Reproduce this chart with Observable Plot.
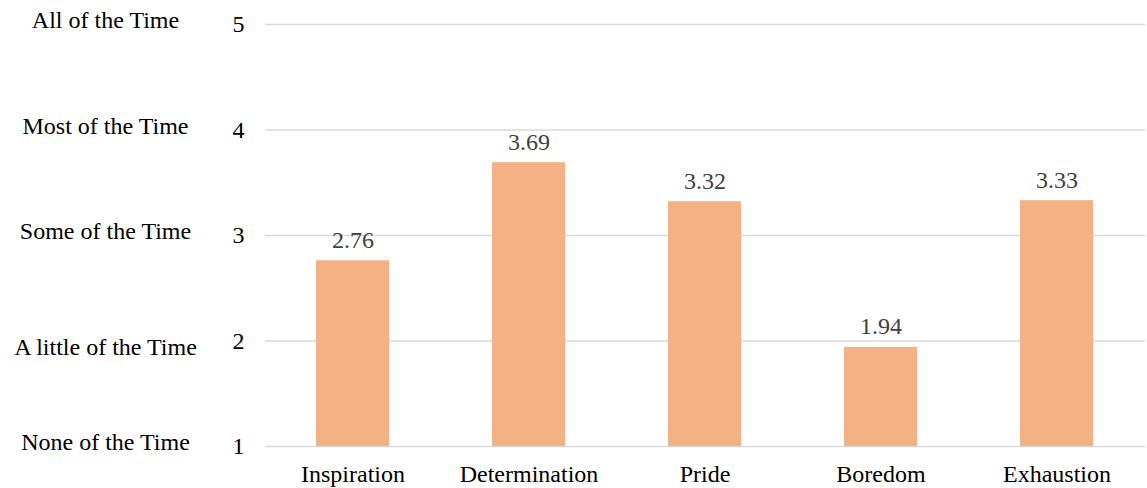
<!DOCTYPE html>
<html>
<head>
<meta charset="utf-8">
<script src="https://cdn.jsdelivr.net/npm/d3@7"></script>
<script src="https://cdn.jsdelivr.net/npm/@observablehq/plot@0.6"></script>
<style>
  html, body { margin: 0; padding: 0; background: #fff; }
  #chart svg { font-family: "Liberation Serif", "Times New Roman", serif; }
</style>
</head>
<body>
<div id="chart"></div>
<script>
const categories = ["Inspiration", "Determination", "Pride", "Boredom", "Exhaustion"];
const values = [2.76, 3.69, 3.32, 1.94, 3.33];
const tickValues = [1, 2, 3, 4, 5];
const levelLabels = ["None of the Time", "A little of the Time", "Some of the Time", "Most of the Time", "All of the Time"];
const levelOffsets = [0, 10, 0, 0, 0];

const data = categories.map((c, i) => ({category: c, value: values[i]}));
const levels = tickValues.map((v, i) => ({value: v, label: levelLabels[i], off: levelOffsets[i]}));

const FS = 24;
const chart = Plot.plot({
  width: 1147,
  height: 488,
  marginTop: 24,
  marginBottom: 42,
  marginLeft: 265,
  marginRight: 2,
  style: {fontFamily: "'Liberation Serif', 'Times New Roman', serif", fontSize: FS + "px", background: "#fff", color: "#000"},
  x: {domain: categories, paddingInner: 0.585, paddingOuter: 0.2925, label: null},
  y: {domain: [1, 5], label: null},
  marks: [
    Plot.ruleY(tickValues.slice(1), {stroke: "#d9d9d9", strokeWidth: 1.5, strokeOpacity: 1}),
    Plot.barY(data, {x: "category", y1: 1, y2: "value", fill: "#F4B183"}),
    Plot.ruleY([1], {stroke: "#d9d9d9", strokeWidth: 1.5, strokeOpacity: 1}),
    Plot.text(data, {x: "category", y: "value", text: d => d.value.toFixed(2), lineAnchor: "bottom", dy: -13, fill: "#404040", fontSize: FS}),
    Plot.axisY({ticks: tickValues, tickSize: 0, tickPadding: 21, tickFormat: d => String(d), fontSize: FS, fill: "#000", label: null}),
    Plot.axisX({tickSize: 0, tickPadding: 18, fontSize: FS, fill: "#000", label: null}),
    levels.map(l => Plot.text([l], {y: "value", text: "label", frameAnchor: "left", dx: -160, dy: l.off - 4, textAnchor: "middle", fill: "#000", fontSize: FS}))
  ]
});
document.getElementById("chart").appendChild(chart);
</script>
</body>
</html>
